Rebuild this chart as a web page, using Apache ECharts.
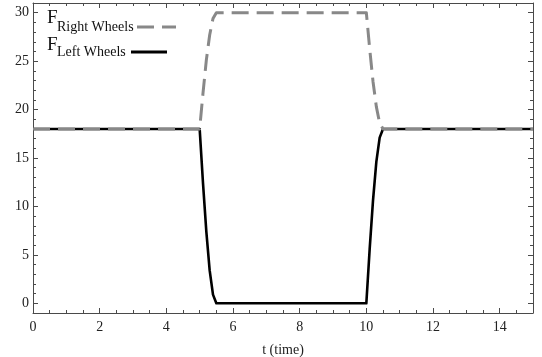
<!DOCTYPE html>
<html><head><meta charset="utf-8">
<script src="https://cdn.jsdelivr.net/npm/echarts@6/dist/echarts.min.js"></script>
<style>html,body{margin:0;padding:0;background:#fff}#c{width:542px;height:357px}</style>
</head><body><div id="c"></div>
<script>
const tValues = [0, 5, 5.1, 5.2, 5.3, 5.4, 5.5, 10, 10.1, 10.2, 10.3, 10.4, 10.5, 15];
const rightWheels = [18, 18, 21.7, 25.1, 27.7, 29.4, 30, 30, 26.3, 22.9, 20.3, 18.6, 18, 18];
const leftWheels = [18, 18, 12.4, 7.4, 3.4, 0.9, 0, 0, 5.6, 10.6, 14.6, 17.1, 18, 18];
const xMajorTicks = [0, 2, 4, 6, 8, 10, 12, 14];
const xMinorTicks = [0.5, 1, 1.5, 2.5, 3, 3.5, 4.5, 5, 5.5, 6.5, 7, 7.5, 8.5, 9, 9.5, 10.5, 11, 11.5, 12.5, 13, 13.5, 14.5];
const yMajorTicks = [0, 5, 10, 15, 20, 25, 30];
const yMinorTicks = [1, 2, 3, 4, 6, 7, 8, 9, 11, 12, 13, 14, 16, 17, 18, 19, 21, 22, 23, 24, 26, 27, 28, 29];
const xLabel = 't (time)';
const legendMain = 'F';
const rightName = 'Right Wheels';
const leftName = 'Left Wheels';

const serif = '"Liberation Serif", "DejaVu Serif", serif';
const frameColor = '#4a4a4a';
const X_MIN = 0, X_MAX = 15, Y_MIN = -1, Y_MAX = 31;

function mkAxis(pos, isX, showLine, ticks, len, labels) {
  return {
    type: 'value', position: pos,
    min: isX ? X_MIN : Y_MIN, max: isX ? X_MAX : Y_MAX,
    splitLine: { show: false },
    axisLine: { show: showLine, onZero: false, lineStyle: { color: frameColor, width: 1 } },
    axisTick: { show: true, inside: true, length: len, customValues: ticks, lineStyle: { color: frameColor, width: 1 } },
    axisLabel: labels ? { show: true, customValues: ticks, fontFamily: serif, fontSize: 14, color: '#222', margin: isX ? 7 : 4 } : { show: false }
  };
}

const xAxes = [
  Object.assign(mkAxis('bottom', true, true, xMajorTicks, 5, true), {
    name: xLabel, nameLocation: 'middle', nameGap: 30,
    nameTextStyle: { fontFamily: serif, fontSize: 14, color: '#222' }
  }),
  mkAxis('bottom', true, false, xMinorTicks, 3, false),
  mkAxis('top', true, true, xMajorTicks, 5, false),
  mkAxis('top', true, false, xMinorTicks, 3, false)
];
const yAxes = [
  mkAxis('left', false, true, yMajorTicks, 5, true),
  mkAxis('left', false, false, yMinorTicks, 3, false),
  mkAxis('right', false, true, yMajorTicks, 5, false),
  mkAxis('right', false, false, yMinorTicks, 3, false)
];

const chart = echarts.init(document.getElementById('c'), null, { renderer: 'canvas' });
chart.setOption({
  animation: false,
  backgroundColor: '#fff',
  grid: { left: 33, right: 9, top: 3, bottom: 44, containLabel: false, outerBoundsMode: 'none' },
  xAxis: xAxes,
  yAxis: yAxes,
  series: [
    {
      name: leftName, type: 'line', xAxisIndex: 0, yAxisIndex: 0, showSymbol: false, z: 2,
      data: tValues.map((t, i) => [t, leftWheels[i]]),
      lineStyle: { color: '#000', width: 2.6, join: 'round' }
    },
    {
      name: rightName, type: 'line', xAxisIndex: 0, yAxisIndex: 0, showSymbol: false, z: 3,
      data: tValues.map((t, i) => [t, rightWheels[i]]),
      lineStyle: { color: '#888', width: 3, type: [17, 8], join: 'round' }
    }
  ],
  graphic: [
    { type: 'text', left: 47, top: 9, style: { text: legendMain, font: '19px ' + serif, fill: '#111' } },
    { type: 'text', left: 57, top: 20, style: { text: rightName, font: '14px ' + serif, fill: '#111' } },
    { type: 'line', shape: { x1: 137, y1: 27, x2: 176, y2: 27 }, style: { stroke: '#888', lineWidth: 3, lineDash: [17, 8] } },
    { type: 'text', left: 47, top: 36, style: { text: legendMain, font: '19px ' + serif, fill: '#111' } },
    { type: 'text', left: 57, top: 45, style: { text: leftName, font: '14px ' + serif, fill: '#111' } },
    { type: 'line', shape: { x1: 131, y1: 52, x2: 167, y2: 52 }, style: { stroke: '#000', lineWidth: 3 } }
  ]
});
</script>
</body></html>
